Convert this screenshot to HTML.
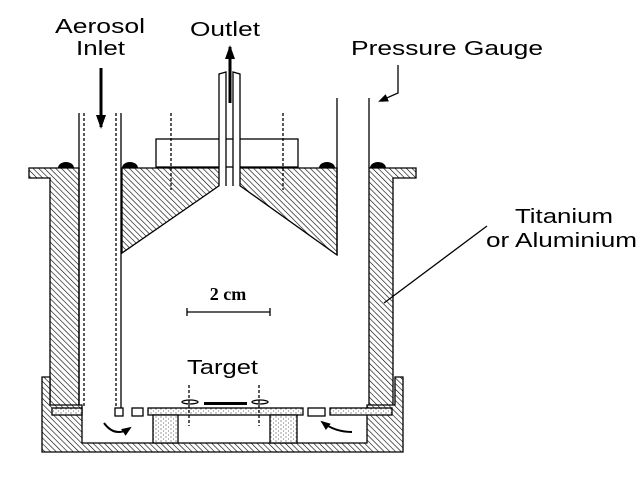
<!DOCTYPE html>
<html><head><style>body{margin:0;background:#fff}svg{display:block}</style></head><body>
<svg width="640" height="480" viewBox="0 0 640 480" xmlns="http://www.w3.org/2000/svg">
<defs>
<pattern id="h" width="4" height="4" patternUnits="userSpaceOnUse" patternTransform="rotate(-45)">
<rect width="4" height="4" fill="#fff"/><line x1="0" y1="0" x2="0" y2="4" stroke="#000" stroke-width="1.2"/></pattern>
<pattern id="d" width="5" height="4" patternUnits="userSpaceOnUse">
<rect width="5" height="4" fill="#fff"/><circle cx="1" cy="1" r="0.6" fill="#555"/><circle cx="3.5" cy="3" r="0.6" fill="#777"/></pattern>
<marker id="a" markerUnits="userSpaceOnUse" markerWidth="14" markerHeight="12" refX="12" refY="6" orient="auto"><path d="M0,1 L14,6 L0,11 z" fill="#000"/></marker>
<marker id="s" markerUnits="userSpaceOnUse" markerWidth="10" markerHeight="10" refX="8" refY="5" orient="auto"><path d="M0,1 L10,5 L0,9 z" fill="#000"/></marker>
</defs>
<g font-family="Liberation Sans, sans-serif" font-size="20" fill="#000">
<text x="55" y="33" textLength="90" lengthAdjust="spacingAndGlyphs">Aerosol</text>
<text x="76" y="55" textLength="49" lengthAdjust="spacingAndGlyphs">Inlet</text>
<text x="190" y="36" textLength="70" lengthAdjust="spacingAndGlyphs">Outlet</text>
<text x="351" y="55" textLength="192" lengthAdjust="spacingAndGlyphs">Pressure Gauge</text>
<text x="515" y="223" textLength="98" lengthAdjust="spacingAndGlyphs">Titanium</text>
<text x="486" y="247" textLength="151" lengthAdjust="spacingAndGlyphs">or Aluminium</text>
<text x="187" y="374" textLength="71" lengthAdjust="spacingAndGlyphs">Target</text>
</g>
<text x="228" y="300" font-family="Liberation Serif, serif" font-weight="bold" font-size="18" text-anchor="middle">2 cm</text>
<g stroke="#000" stroke-width="1.3" fill="none">
<path d="M29,168 H79 V408 H50 V178 H29 Z" fill="url(#h)"/>
<path d="M369,168 H416 V178 H393 V408 H369 Z" fill="url(#h)"/>
<line x1="79" y1="113" x2="79" y2="408"/><line x1="121" y1="113" x2="121" y2="408"/>
<line x1="84" y1="113" x2="84" y2="408" stroke-dasharray="3,2"/><line x1="116" y1="113" x2="116" y2="408" stroke-dasharray="3,2"/>
<path d="M122,168 H220 V185 L213,190 L122,253 Z" fill="url(#h)"/>
<path d="M239,168 H337 V255 L246,190 L239,185 Z" fill="url(#h)"/>
<rect x="156" y="139" width="142" height="28" fill="#fff"/>
<line x1="171" y1="113" x2="171" y2="190" stroke-dasharray="3,2"/>
<line x1="283" y1="113" x2="283" y2="190" stroke-dasharray="3,2"/>
<path d="M219,186 V74 L226,72 V186" fill="#fff"/><path d="M233,186 V72 L240,74 V186" fill="#fff"/>
<line x1="337" y1="98" x2="337" y2="255"/><line x1="369" y1="98" x2="369" y2="168"/>
<path d="M42,377 H50 V405 H82 V443 H367 V405 H395 V377 H403 V452 H42 Z" fill="url(#h)"/>
<rect x="52" y="408" width="30" height="7" fill="url(#d)"/>
<rect x="330" y="408" width="62" height="7" fill="url(#d)"/>
<rect x="115" y="408" width="8" height="8" fill="#fff"/><rect x="132" y="408" width="11" height="8" fill="#fff"/>
<rect x="308" y="408" width="17" height="8" fill="#fff"/>
<rect x="148" y="408" width="155" height="7" fill="url(#d)"/>
<rect x="153" y="415" width="25" height="28" fill="url(#d)"/>
<rect x="270" y="415" width="27" height="28" fill="url(#d)"/>
<line x1="189" y1="385" x2="189" y2="426" stroke-dasharray="3,2"/>
<line x1="259" y1="385" x2="259" y2="426" stroke-dasharray="3,2"/>
<ellipse cx="190" cy="402" rx="8" ry="2"/><ellipse cx="260" cy="402" rx="8" ry="2"/>
<path d="M187,308 V316 M187,312 H270 M270,308 V316"/>
<path d="M398,65 V93 L380,101" marker-end="url(#s)"/>
<line x1="487" y1="226" x2="384" y2="303"/>
<line x1="101" y1="68" x2="101" y2="127" stroke-width="3" marker-end="url(#a)"/>
<line x1="230" y1="103" x2="230" y2="47" stroke-width="3" marker-end="url(#a)"/>
<path d="M104,423 Q115,438 130,428" stroke-width="2" marker-end="url(#s)"/>
<path d="M352,432 Q335,432 322,422" stroke-width="2" marker-end="url(#s)"/>
</g>
<rect x="204" y="402" width="43" height="3" fill="#000"/>
<g fill="#000">
<path d="M58,168 A8,6 0 0 1 74,168 Z"/><path d="M122,168 A8,6 0 0 1 138,168 Z"/>
<path d="M319,168 A8,6 0 0 1 335,168 Z"/><path d="M370,168 A8,6 0 0 1 386,168 Z"/>
</g>
</svg>
</body></html>
